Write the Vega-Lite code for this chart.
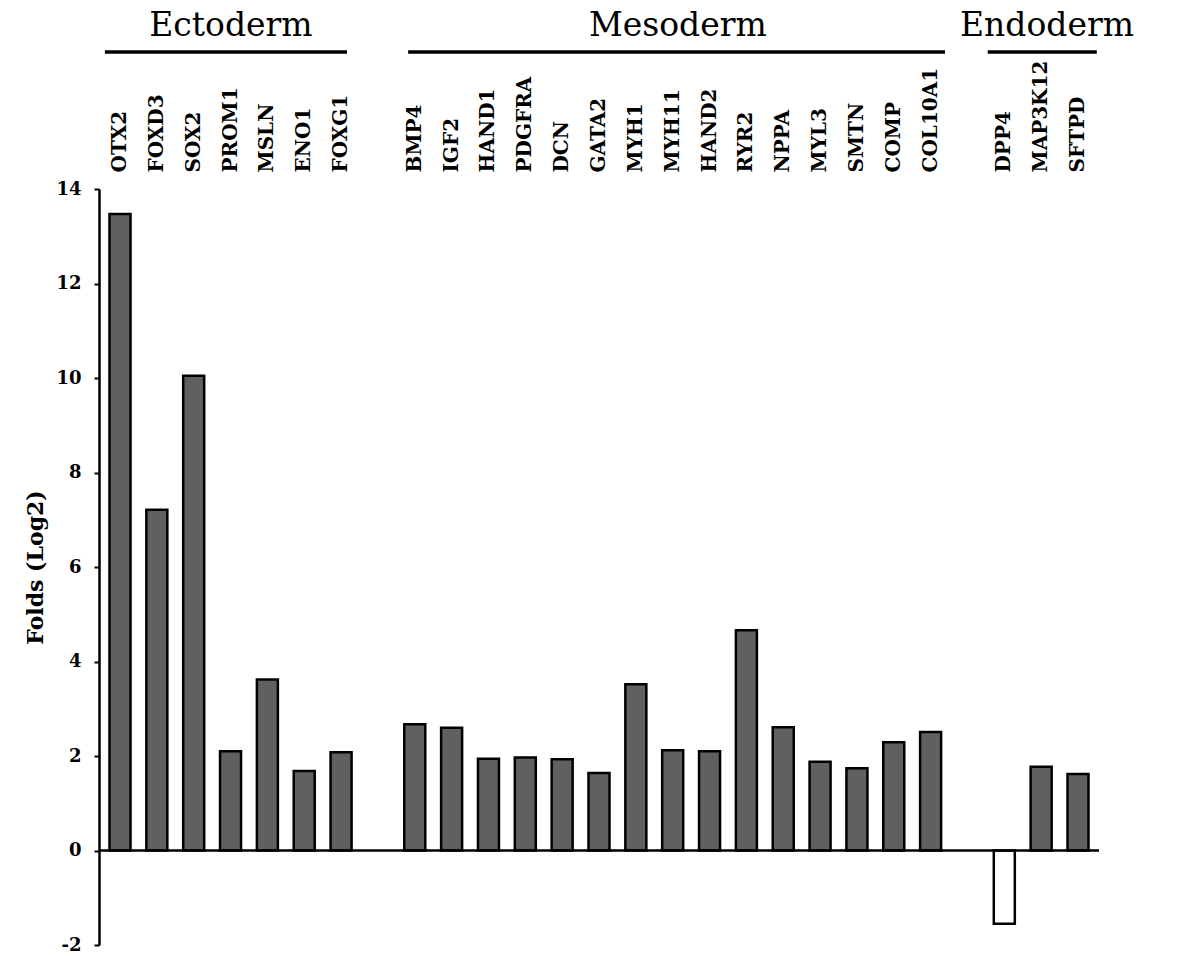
{
  "$schema": "https://vega.github.io/schema/vega-lite/v6.json",
  "autosize": "none",
  "width": 1000,
  "height": 756,
  "padding": {"left": 99, "top": 189, "right": 105, "bottom": 11},
  "background": "white",
  "config": {"view": {"stroke": null}, "font": "DejaVu Serif"},
  "datasets": {
    "genes": [
      {"gene": "OTX2", "layer": "Ectoderm", "value": 13.47},
      {"gene": "FOXD3", "layer": "Ectoderm", "value": 7.21},
      {"gene": "SOX2", "layer": "Ectoderm", "value": 10.05},
      {"gene": "PROM1", "layer": "Ectoderm", "value": 2.10},
      {"gene": "MSLN", "layer": "Ectoderm", "value": 3.62},
      {"gene": "ENO1", "layer": "Ectoderm", "value": 1.68},
      {"gene": "FOXG1", "layer": "Ectoderm", "value": 2.08},
      {"gene": "BMP4", "layer": "Mesoderm", "value": 2.67},
      {"gene": "IGF2", "layer": "Mesoderm", "value": 2.60},
      {"gene": "HAND1", "layer": "Mesoderm", "value": 1.94},
      {"gene": "PDGFRA", "layer": "Mesoderm", "value": 1.97},
      {"gene": "DCN", "layer": "Mesoderm", "value": 1.93},
      {"gene": "GATA2", "layer": "Mesoderm", "value": 1.64},
      {"gene": "MYH1", "layer": "Mesoderm", "value": 3.52},
      {"gene": "MYH11", "layer": "Mesoderm", "value": 2.12},
      {"gene": "HAND2", "layer": "Mesoderm", "value": 2.10},
      {"gene": "RYR2", "layer": "Mesoderm", "value": 4.66},
      {"gene": "NPPA", "layer": "Mesoderm", "value": 2.61},
      {"gene": "MYL3", "layer": "Mesoderm", "value": 1.88},
      {"gene": "SMTN", "layer": "Mesoderm", "value": 1.74},
      {"gene": "COMP", "layer": "Mesoderm", "value": 2.29},
      {"gene": "COL10A1", "layer": "Mesoderm", "value": 2.51},
      {"gene": "DPP4", "layer": "Endoderm", "value": -1.55},
      {"gene": "MAP3K12", "layer": "Endoderm", "value": 1.77},
      {"gene": "SFTPD", "layer": "Endoderm", "value": 1.62}
    ],
    "groups": [
      {"layer": "Ectoderm", "from": -0.41, "to": 6.16, "center": 3.01},
      {"layer": "Mesoderm", "from": 7.82, "to": 22.39, "center": 15.14},
      {"layer": "Endoderm", "from": 23.55, "to": 26.51, "center": 25.16}
    ]
  },
  "resolve": {"scale": {"x": "independent"}, "axis": {"x": "independent"}},
  "layer": [
    {
      "data": {"name": "genes"},
      "mark": {"type": "bar", "stroke": "black", "strokeWidth": 2.5, "clip": false},
      "encoding": {
        "x": {
          "field": "gene",
          "type": "nominal",
          "sort": null,
          "scale": {
            "domain": ["OTX2", "FOXD3", "SOX2", "PROM1", "MSLN", "ENO1", "FOXG1", " ",
                       "BMP4", "IGF2", "HAND1", "PDGFRA", "DCN", "GATA2", "MYH1", "MYH11", "HAND2", "RYR2", "NPPA", "MYL3", "SMTN", "COMP", "COL10A1", "  ",
                       "DPP4", "MAP3K12", "SFTPD"],
            "paddingInner": 0.43,
            "paddingOuter": 0.285
          },
          "axis": {
            "orient": "top",
            "title": null,
            "labelAngle": -90,
            "domain": false,
            "ticks": false,
            "tickSize": 0,
            "labelPadding": 17,
            "labelFont": "DejaVu Serif",
            "labelFontWeight": "bold",
            "labelFontSize": 20,
            "labelColor": "black",
            "labelOverlap": false,
            "labelLimit": 300
          }
        },
        "y": {
          "field": "value",
          "type": "quantitative",
          "scale": {"domain": [-2, 14], "nice": false, "zero": false},
          "axis": {
            "title": "Folds (Log2)",
            "values": [-2, 0, 2, 4, 6, 8, 10, 12, 14],
            "labelExpr": "datum.value < 0 ? '-' + abs(datum.value) : '' + datum.value",
            "grid": false,
            "domainColor": "black",
            "domainWidth": 2.5,
            "tickColor": "black",
            "tickWidth": 2,
            "tickSize": 5,
            "labelPadding": 13,
            "labelFont": "DejaVu Serif",
            "labelFontWeight": "bold",
            "labelFontSize": 18,
            "labelColor": "black",
            "titleFont": "DejaVu Serif",
            "titleFontWeight": "bold",
            "titleFontSize": 22,
            "titleColor": "black",
            "titlePadding": 8
          }
        },
        "fill": {
          "condition": {"test": "datum.value < 0", "value": "white"},
          "value": "#606060"
        }
      }
    },
    {
      "data": {"values": [{"level": 0}]},
      "mark": {"type": "rule", "stroke": "black", "strokeWidth": 2.5},
      "encoding": {
        "y": {"field": "level", "type": "quantitative"}
      }
    },
    {
      "data": {"name": "groups"},
      "mark": {"type": "rule", "stroke": "black", "strokeWidth": 3.5, "clip": false},
      "encoding": {
        "x": {"field": "from", "type": "quantitative", "scale": {"domain": [-0.57, 26.57], "nice": false, "zero": false}, "axis": null},
        "x2": {"field": "to"},
        "y": {"datum": 16.9}
      }
    },
    {
      "data": {"name": "groups"},
      "mark": {"type": "text", "font": "DejaVu Serif", "fontSize": 33, "fontWeight": "normal", "color": "black", "align": "center", "baseline": "alphabetic", "clip": false},
      "encoding": {
        "x": {"field": "center", "type": "quantitative", "scale": {"domain": [-0.57, 26.57], "nice": false, "zero": false}, "axis": null},
        "y": {"datum": 17.24},
        "text": {"field": "layer"}
      }
    }
  ]
}
